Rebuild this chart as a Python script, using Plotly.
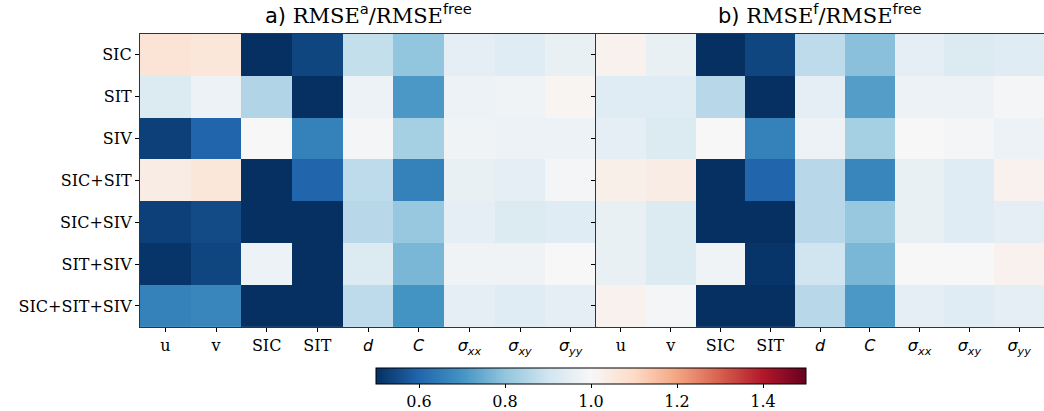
import plotly.graph_objects as go

# Experiment names (rows) and diagnosed variables (columns)
experiments = ["SIC", "SIT", "SIV", "SIC+SIT", "SIC+SIV", "SIT+SIV", "SIC+SIT+SIV"]
_m = "<span style='font-family:DejaVu Sans'>{}</span>"
variables = ["u", "v", "SIC", "SIT",
             _m.format("<i>d</i>"), _m.format("<i>C</i>"),
             _m.format("<i>σ</i><sub><i>xx</i></sub>"),
             _m.format("<i>σ</i><sub><i>xy</i></sub>"),
             _m.format("<i>σ</i><sub><i>yy</i></sub>")]

# a) analysis RMSE relative to free run
rmse_analysis = [
    [1.07, 1.06, 0.46, 0.54, 0.88, 0.80, 0.95, 0.94, 0.96],
    [0.93, 0.97, 0.85, 0.46, 0.97, 0.71, 0.97, 0.98, 1.01],
    [0.53, 0.60, 1.00, 0.66, 0.99, 0.83, 0.98, 0.97, 0.97],
    [1.04, 1.06, 0.46, 0.60, 0.87, 0.66, 0.96, 0.95, 0.99],
    [0.53, 0.55, 0.46, 0.46, 0.86, 0.81, 0.95, 0.93, 0.94],
    [0.51, 0.54, 0.97, 0.46, 0.93, 0.77, 0.98, 0.98, 1.00],
    [0.66, 0.67, 0.46, 0.46, 0.87, 0.70, 0.95, 0.94, 0.95],
]

# b) forecast RMSE relative to free run
rmse_forecast = [
    [1.02, 0.96, 0.46, 0.54, 0.87, 0.79, 0.95, 0.93, 0.94],
    [0.94, 0.94, 0.86, 0.46, 0.95, 0.72, 0.97, 0.97, 0.99],
    [0.95, 0.93, 1.00, 0.66, 0.97, 0.83, 1.00, 0.99, 0.97],
    [1.03, 1.04, 0.46, 0.60, 0.86, 0.67, 0.96, 0.94, 1.02],
    [0.96, 0.93, 0.46, 0.46, 0.86, 0.81, 0.96, 0.94, 0.95],
    [0.96, 0.93, 0.98, 0.51, 0.90, 0.77, 1.00, 1.00, 1.02],
    [1.02, 0.99, 0.46, 0.46, 0.86, 0.71, 0.95, 0.94, 0.95],
]

colorbar_ticks = [0.6, 0.8, 1.0, 1.2, 1.4]

# matplotlib RdBu_r
rdbu_r = [
    [0.0, "#053061"], [0.1, "#2166ac"], [0.2, "#4393c3"], [0.3, "#92c5de"],
    [0.4, "#d1e5f0"], [0.5, "#f7f7f7"], [0.6, "#fddbc7"], [0.7, "#f4a582"],
    [0.8, "#d6604d"], [0.9, "#b2182b"], [1.0, "#67001f"],
]

W, H = 1044, 411
serif = "DejaVu Serif"
sans = "DejaVu Sans"

fig = go.Figure()

fig.add_trace(go.Heatmap(
    z=rmse_analysis, x=variables, y=experiments,
    colorscale=rdbu_r, zmin=0.5, zmax=1.5,
    xaxis="x", yaxis="y", showscale=True,
    colorbar=dict(
        orientation="h", x=591 / W, xanchor="center",
        y=1 - 368 / H, yanchor="top",
        lenmode="pixels", len=430, thickness=16,
        outlinewidth=1, outlinecolor="black",
        tickvals=colorbar_ticks, ticktext=[f"{t:.1f}" for t in colorbar_ticks],
        ticks="outside", ticklen=4, tickcolor="black",
        tickfont=dict(family=serif, size=16, color="black"),
        xpad=0, ypad=0,
    ),
))
fig.add_trace(go.Heatmap(
    z=rmse_forecast, x=variables, y=experiments,
    colorscale=rdbu_r, zmin=0.5, zmax=1.5,
    xaxis="x2", yaxis="y2", showscale=False,
))

axis_common = dict(
    showline=True, linecolor="#333333", linewidth=1.2, mirror=True,
    ticks="outside", ticklen=4, tickcolor="black", showgrid=False, zeroline=False,
)
ydom = [1 - 327.7 / H, 1 - 34 / H]

fig.update_layout(
    width=W, height=H,
    margin=dict(l=0, r=0, t=0, b=0),
    font=dict(family=serif, size=16, color="black"),
    paper_bgcolor="white", plot_bgcolor="white",
    xaxis=dict(domain=[140 / W, 596 / W], anchor="y",
               tickfont=dict(family=serif, size=16, color="black"), **axis_common),
    yaxis=dict(domain=ydom, anchor="x", autorange="reversed",
               tickfont=dict(family=serif, size=16, color="black"), **axis_common),
    xaxis2=dict(domain=[596 / W, 1.0], anchor="y2",
                tickfont=dict(family=serif, size=16, color="black"), **axis_common),
    yaxis2=dict(domain=ydom, anchor="x2", autorange="reversed",
                showticklabels=False, **axis_common),
)

def panel_title(label, sup):
    return (f"<span style='font-family:{sans}'>{label}</span> RMSE"
            f"<sup><span style='font-family:{sans}'>{sup}</span></sup>/RMSE"
            f"<sup><span style='font-family:{sans}'>free</span></sup>")

for xc, text in [((140 + 596) / 2 / W, panel_title("a)", "a")),
                 ((596 + 1044) / 2 / W, panel_title("b)", "f"))]:
    fig.add_annotation(
        x=xc, y=1 - 30 / H, xref="paper", yref="paper",
        xanchor="center", yanchor="bottom", showarrow=False,
        text=text, font=dict(family=serif, size=21, color="black"),
    )

fig.write_html("out.html")
